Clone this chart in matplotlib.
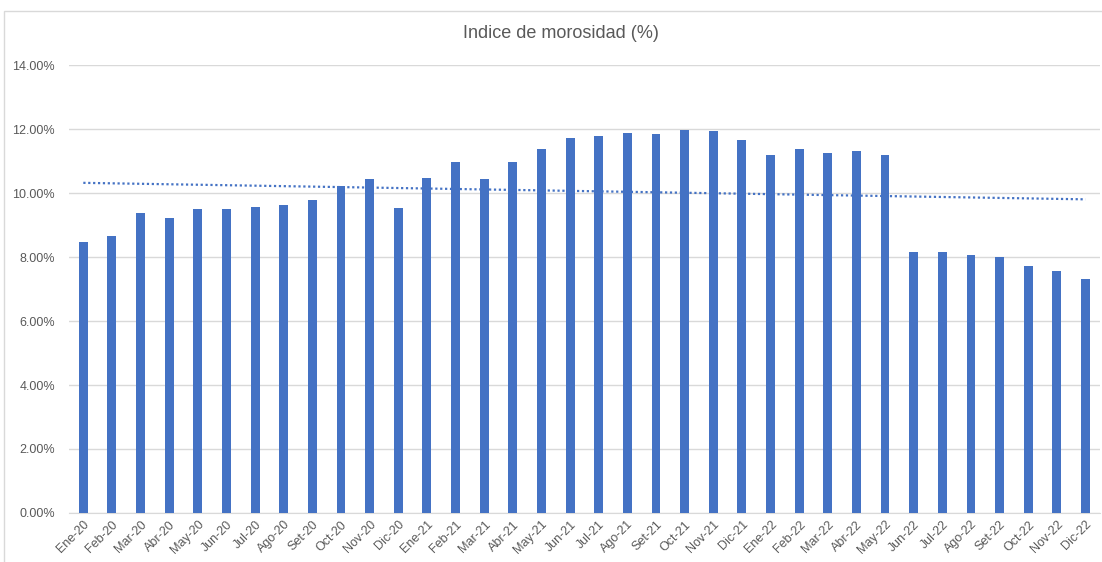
import numpy as np
import matplotlib.pyplot as plt
from matplotlib.patches import Rectangle
from matplotlib.ticker import FuncFormatter

# Indice de morosidad mensual, 2020-2022
meses = ['Ene', 'Feb', 'Mar', 'Abr', 'May', 'Jun',
         'Jul', 'Ago', 'Set', 'Oct', 'Nov', 'Dic']
anios = ['20', '21', '22']
etiquetas = [m + '-' + a for a in anios for m in meses]

morosidad = [8.47, 8.66, 9.37, 9.22, 9.50, 9.50, 9.56, 9.62, 9.78, 10.22, 10.44, 9.53,
             10.47, 10.97, 10.44, 10.97, 11.37, 11.72, 11.78, 11.87, 11.84, 11.98, 11.94, 11.66,
             11.19, 11.37, 11.25, 11.31, 11.19, 8.16, 8.16, 8.06, 8.00, 7.72, 7.56, 7.31]

color_barra = '#4472C4'
gris = '#595959'

plt.rcParams['font.family'] = ['Liberation Sans', 'DejaVu Sans']

fig = plt.figure(figsize=(11.02, 5.62), dpi=100)
ax = fig.add_axes([0.0626, 0.0872, 0.9354, 0.7971])

x = np.arange(len(morosidad))
ax.bar(x, morosidad, width=0.31, color=color_barra, zorder=3)

# linea de tendencia lineal (como en Excel)
coef = np.polyfit(x, morosidad, 1)
ax.plot(x, np.polyval(coef, x), linestyle=(0, (1, 1.2)), color=color_barra,
        linewidth=1.6, zorder=4)

ax.set_xlim(-0.5, len(morosidad) - 0.5)
ax.set_ylim(0, 14)
ax.set_yticks(np.arange(0, 15, 2))
ax.yaxis.set_major_formatter(FuncFormatter(lambda v, p: '%.2f%%' % v))
ax.set_xticks(x)
ax.set_xticklabels(etiquetas, rotation=45, ha='right', rotation_mode='anchor')

ax.grid(axis='y', color='#D9D9D9', linewidth=1, zorder=0)
for s in ['top', 'right', 'left']:
    ax.spines[s].set_visible(False)
ax.spines['bottom'].set_color('#D9D9D9')
ax.tick_params(axis='both', length=0, colors=gris, labelsize=9)
ax.tick_params(axis='y', pad=10)
ax.tick_params(axis='x', pad=4)

fig.text(0.509, 0.94, 'Indice de morosidad (%)', ha='center', va='center',
         fontsize=13, color=gris)

# marco del grafico
fig.patches.append(Rectangle((4 / 1102, -0.01), 1.1, 1 - 11 / 562 + 0.01,
                             transform=fig.transFigure, fill=False,
                             edgecolor='#D9D9D9', linewidth=1))

fig.savefig('out.png', dpi=100)
